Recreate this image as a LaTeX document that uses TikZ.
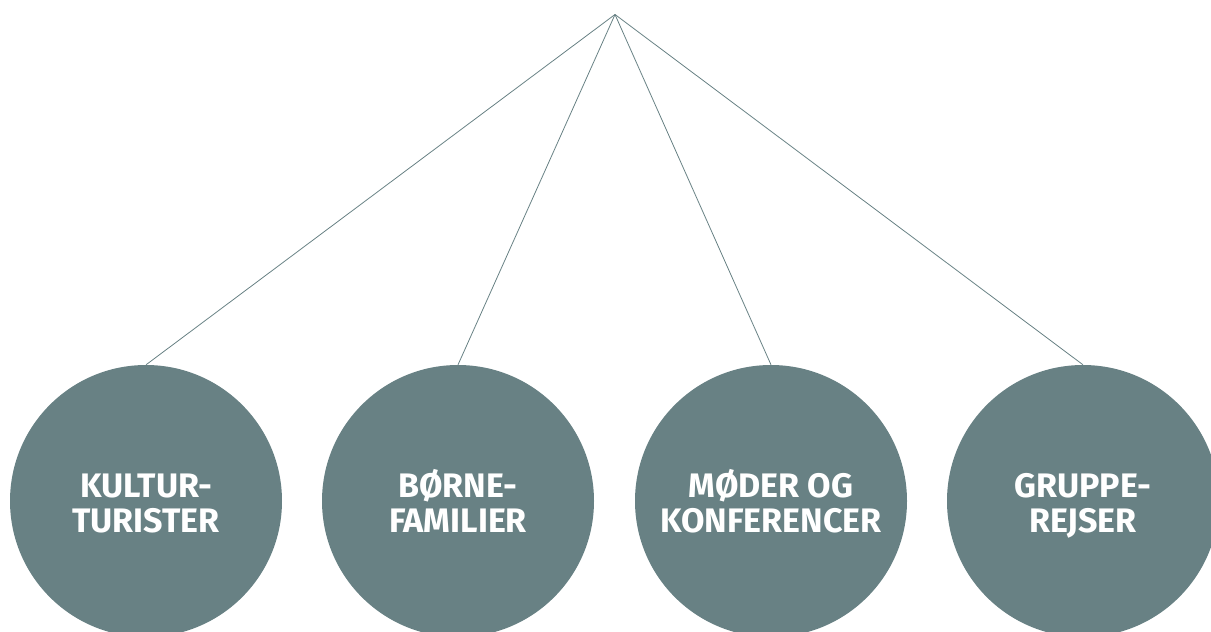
\documentclass[tikz,border=0pt]{standalone}
\usepackage{fontspec}
\setmainfont{Fira Sans}
\definecolor{segteal}{HTML}{688184}
\begin{document}
\begin{tikzpicture}[x=1pt,y=1pt,
    segment/.style={circle,fill=segteal,text=white,minimum size=272pt,inner sep=0pt,
      align=center,text height=62pt,text depth=0pt,font=\fontsize{34}{35}\selectfont\bfseries}]
      \useasboundingbox (0,0) rectangle (1211,-632);
      \coordinate (top) at (615,-14.5);
      \draw
        (146,-501) node[segment] (kultur){KULTUR-\\TURISTER}
        (458,-501) node[segment] (born){BØRNE-\\FAMILIER}
        (771,-501) node[segment] (moder){MØDER OG\\KONFERENCER}
        (1083,-501) node[segment] (gruppe){GRUPPE-\\REJSER};
      \begin{scope}[segteal,line width=0.8pt]
        \draw (top) to (kultur.north);
        \draw (top) to (born.north);
        \draw (top) to (moder.north);
        \draw (top) to (gruppe.north);
      \end{scope}
    \end{tikzpicture}
\end{document}
